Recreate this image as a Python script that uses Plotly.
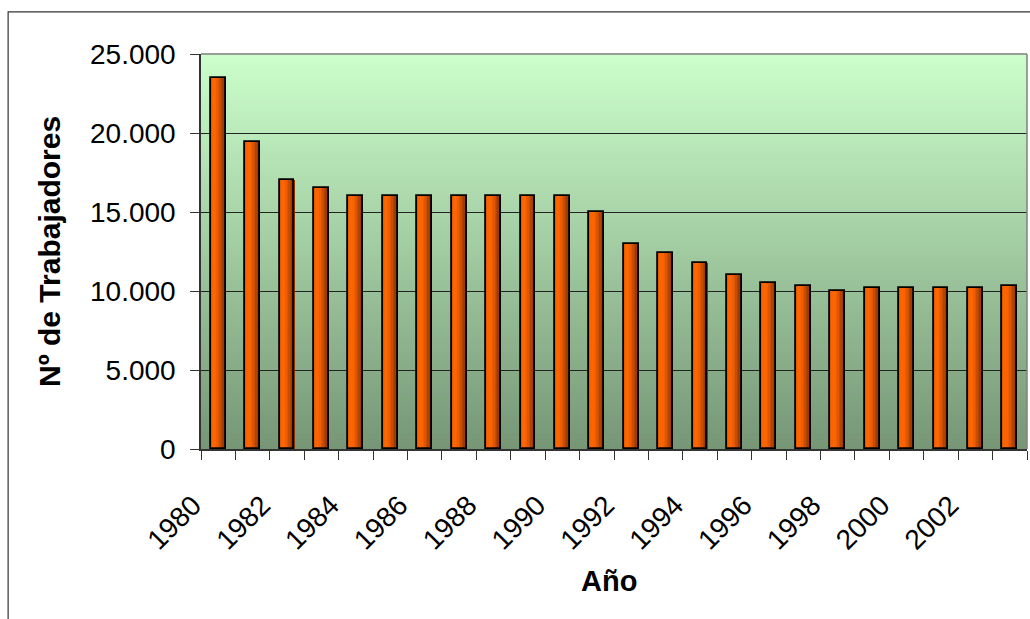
import plotly.graph_objects as go

# Workers per year
years = list(range(1980, 2004))
workers = [23500, 19400, 17000, 16500, 16000, 16000, 16000, 16000, 16000, 16000,
           16000, 15000, 13000, 12400, 11800, 11000, 10500, 10300, 10000, 10200,
           10200, 10200, 10200, 10300]

y_tickvals = [0, 5000, 10000, 15000, 20000, 25000]
y_ticktext = ["0", "5.000", "10.000", "15.000", "20.000", "25.000"]
x_tickvals = list(range(1980, 2003, 2))
x_ticktext = [str(v) for v in x_tickvals]

FONT = "Liberation Sans, Arial, sans-serif"
BAR_W = 0.43

# Horizontal shading of each bar, left to right
strip_colors = ["#E45A00", "#FA6400", "#FF6600", "#FA6300", "#EE5E00",
                "#DD5600", "#C94D00", "#B34400", "#9E3B00", "#8A3300"]

fig = go.Figure()
n = len(strip_colors)
sw = BAR_W / n
for i, c in enumerate(strip_colors):
    fig.add_trace(go.Bar(
        x=years, y=workers, width=sw * 1.05, offset=-BAR_W / 2 + i * sw,
        marker=dict(color=c, line=dict(width=0)),
        showlegend=False, hoverinfo="skip",
    ))
# Outline of each bar
fig.add_trace(go.Bar(
    x=years, y=workers, width=BAR_W, offset=-BAR_W / 2,
    marker=dict(color="rgba(0,0,0,0)", line=dict(color="#000000", width=1.8)),
    showlegend=False, hovertemplate="%{x}: %{y}<extra></extra>",
))

# Vertical gradient for the plotting area
shapes = []
bands = 120
top = (204, 255, 204)
bot = (118, 150, 118)
for k in range(bands):
    t = (k + 0.5) / bands
    col = tuple(round(bot[j] + (top[j] - bot[j]) * t) for j in range(3))
    shapes.append(dict(
        type="rect", xref="paper", yref="paper",
        x0=0, x1=1, y0=k / bands, y1=(k + 1) / bands + 0.002,
        fillcolor="rgb(%d,%d,%d)" % col, line=dict(width=0), layer="below",
    ))
# Gray border on top and right of the plot area
shapes.append(dict(type="line", xref="paper", yref="paper", x0=0, x1=1, y0=1, y1=1,
                   line=dict(color="#808080", width=1.5)))
shapes.append(dict(type="line", xref="paper", yref="paper", x0=1, x1=1, y0=0, y1=1,
                   line=dict(color="#808080", width=1.5)))
# Outer chart frame
shapes.append(dict(type="rect", xref="paper", yref="paper",
                   x0=-0.2335, x1=1.01, y0=-0.5, y1=1.1065,
                   line=dict(color="#333333", width=1.2), fillcolor="rgba(0,0,0,0)"))

fig.update_layout(
    width=1030, height=619,
    margin=dict(l=201, r=3, t=54, b=170),
    paper_bgcolor="white", plot_bgcolor="rgba(0,0,0,0)",
    barmode="overlay", bargap=0,
    font=dict(family=FONT, size=28, color="#000000"),
    shapes=shapes,
    xaxis=dict(
        range=[1979.5, 2003.5],
        tickmode="array", tickvals=x_tickvals, ticktext=x_ticktext,
        tickangle=-45, ticks="", showgrid=False, zeroline=False,
        showline=True, linecolor="#333333", linewidth=1.5,
        tickfont=dict(size=28), ticklabelshift=-25, ticklabelstandoff=27,
        minor=dict(tickmode="linear", tick0=1979.5, dtick=1, ticks="outside",
                   ticklen=9, tickcolor="#333333", tickwidth=1.2, showgrid=False),
    ),
    yaxis=dict(
        range=[0, 25000],
        tickmode="array", tickvals=y_tickvals, ticktext=y_ticktext,
        ticks="outside", ticklen=9, tickcolor="#333333", tickwidth=1.2,
        showgrid=True, gridcolor="#222222", gridwidth=1,
        showline=True, linecolor="#333333", linewidth=1.5, zeroline=False,
        tickfont=dict(size=28), ticklabelstandoff=9,
    ),
    annotations=[
        dict(text="<b>Nº de Trabajadores</b>", xref="paper", yref="paper",
             x=-0.1835, y=0.5, textangle=-90, showarrow=False,
             xanchor="center", yanchor="middle", font=dict(size=30)),
        dict(text="<b>Año</b>", xref="paper", yref="paper",
             x=0.4935, y=-0.333, showarrow=False,
             xanchor="center", yanchor="middle", font=dict(size=29)),
    ],
)

fig.write_html("out.html")
